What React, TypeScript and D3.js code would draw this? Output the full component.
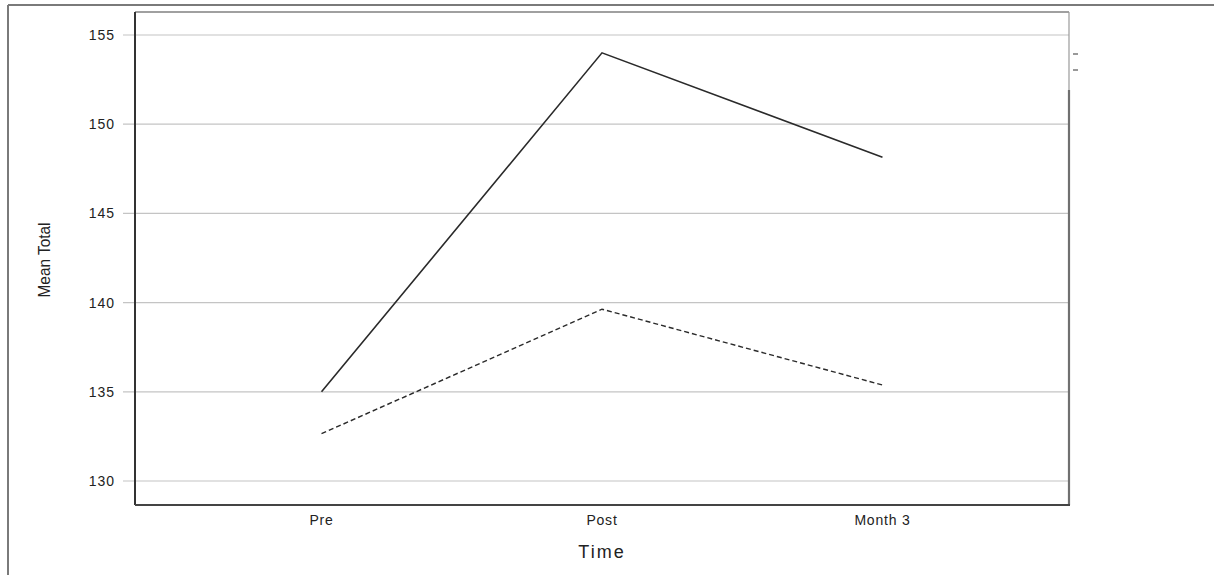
import React from "react";
import * as d3 from "d3";

const categories = ["Pre", "Post", "Month 3"];
const seriesSolid = [135.0, 154.0, 148.15];
const seriesDashed = [132.65, 139.63, 135.38];
const yTicks = [130, 135, 140, 145, 150, 155];

const W = 1214;
const H = 575;
const plotLeft = 135;
const plotRight = 1069;
const plotTop = 12;
const plotBottom = 505;

export default function App() {
  const x = d3.scalePoint<string>().domain(categories).range([plotLeft, plotRight]).padding(0.665);
  const y = d3.scaleLinear().domain([130, 155]).range([481, 35]);
  const line = d3
    .line<number>()
    .x((_, i) => x(categories[i]) as number)
    .y((d) => y(d));

  const font = "Liberation Sans, Arial, sans-serif";
  return (
    <svg
      width={W}
      height={H}
      style={{ position: "absolute", left: 0, top: 0, background: "#fff" }}
    >
      {/* outer frame */}
      <line x1={8} y1={5} x2={W} y2={5} stroke="#7a7a7a" strokeWidth={2} />
      <line x1={8} y1={5} x2={8} y2={H} stroke="#7a7a7a" strokeWidth={2} />

      {/* gridlines and ticks */}
      {yTicks.map((t) => (
        <g key={t}>
          <line x1={123} x2={plotRight} y1={y(t)} y2={y(t)} stroke="#c4c4c4" strokeWidth={1.2} />
          <text
            x={115}
            y={y(t) + 5}
            textAnchor="end"
            fontFamily={font}
            fontSize={14}
            letterSpacing={1}
            fill="#222"
          >
            {t}
          </text>
        </g>
      ))}

      {/* plot border */}
      <line x1={plotLeft} y1={plotTop} x2={plotRight} y2={plotTop} stroke="#808080" strokeWidth={1.5} />
      <line x1={plotRight} y1={plotTop} x2={plotRight} y2={90} stroke="#9a9a9a" strokeWidth={1.2} />
      <line x1={plotRight} y1={90} x2={plotRight} y2={plotBottom} stroke="#707070" strokeWidth={2.2} />
      <line x1={plotLeft} y1={plotTop} x2={plotLeft} y2={plotBottom} stroke="#333" strokeWidth={2} />
      <line x1={plotLeft} y1={plotBottom} x2={plotRight + 1} y2={plotBottom} stroke="#444" strokeWidth={2} />

      {/* legend remnants */}
      <line x1={1073} x2={1078} y1={54} y2={54} stroke="#555" strokeWidth={1.2} />
      <line x1={1073} x2={1078} y1={70} y2={70} stroke="#555" strokeWidth={1.2} />

      {/* series */}
      <path d={line(seriesSolid) || ""} fill="none" stroke="#2a2a2a" strokeWidth={1.6} />
      <path
        d={line(seriesDashed) || ""}
        fill="none"
        stroke="#2a2a2a"
        strokeWidth={1.4}
        strokeDasharray="5,3"
      />

      {/* x labels */}
      {categories.map((c) => (
        <text
          key={c}
          x={x(c) as number}
          y={525}
          textAnchor="middle"
          fontFamily={font}
          fontSize={14}
          letterSpacing={0.8}
          fill="#222"
        >
          {c}
        </text>
      ))}

      <text
        x={602}
        y={558}
        textAnchor="middle"
        fontFamily={font}
        fontSize={18}
        letterSpacing={2}
        fill="#222"
      >
        Time
      </text>

      <text
        transform="translate(50,260) rotate(-90)"
        textAnchor="middle"
        fontFamily={font}
        fontSize={17}
        textLength={75}
        lengthAdjust="spacingAndGlyphs"
        fill="#222"
      >
        Mean Total
      </text>
    </svg>
  );
}
